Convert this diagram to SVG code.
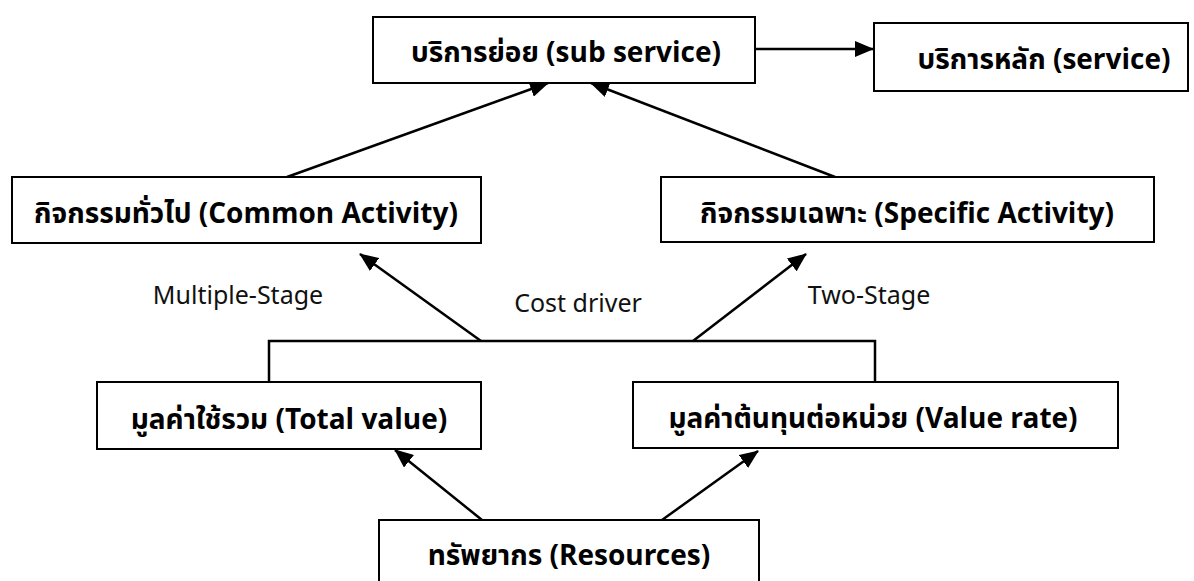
<svg xmlns="http://www.w3.org/2000/svg" width="1194" height="581" viewBox="0 0 1194 581">
<defs>
<marker id="ah" markerUnits="userSpaceOnUse" markerWidth="20" markerHeight="16" refX="18" refY="8" orient="auto">
<path d="M0,0 L19,8 L0,16 z" fill="#000"/>
</marker>
<style>
.box{fill:#fff;stroke:#000;stroke-width:2}
.lbl{font-family:"Noto Sans Thai","Noto Sans","DejaVu Sans",sans-serif;font-weight:bold;font-size:28px;fill:#000;text-anchor:middle}
.note{font-family:"Noto Sans Thai","Noto Sans","DejaVu Sans",sans-serif;font-size:25px;fill:#111;text-anchor:middle}
.con{fill:none;stroke:#000;stroke-width:2.5}
.arr{fill:none;stroke:#000;stroke-width:2.5;marker-end:url(#ah)}
</style>
</defs>
<rect width="1194" height="581" fill="#fff"/>
<g id="connectors">
<line class="arr" x1="755" y1="49" x2="873" y2="49"/>
<line class="arr" x1="287" y1="177" x2="548" y2="83"/>
<line class="arr" x1="835" y1="177" x2="591" y2="83"/>
<line class="arr" x1="481" y1="341" x2="360" y2="254"/>
<line class="arr" x1="693" y1="341" x2="806" y2="254"/>
<polyline class="con" points="269,382 269,341 875,341 875,382"/>
<line class="arr" x1="482" y1="520" x2="395" y2="450"/>
<line class="arr" x1="662" y1="520" x2="758" y2="451"/>
</g>
<g id="sub-service">
<rect class="box" x="373" y="17" width="382" height="66"/>
<text class="lbl" x="566" y="62">บริการย่อย (sub service)</text>
</g>
<g id="service">
<rect class="box" x="874" y="23" width="314" height="68"/>
<text class="lbl" x="1044" y="69">บริการหลัก (service)</text>
</g>
<g id="common-activity">
<rect class="box" x="12" y="177" width="469" height="66"/>
<text class="lbl" x="246" y="223">กิจกรรมทั่วไป (Common Activity)</text>
</g>
<g id="specific-activity">
<rect class="box" x="661" y="177" width="493" height="65"/>
<text class="lbl" x="907" y="223">กิจกรรมเฉพาะ (Specific Activity)</text>
</g>
<g id="labels">
<text class="note" x="238" y="304">Multiple-Stage</text>
<text class="note" x="578" y="312">Cost driver</text>
<text class="note" x="869" y="304">Two-Stage</text>
</g>
<g id="total-value">
<rect class="box" x="97" y="382" width="384" height="67"/>
<text class="lbl" x="289" y="429">มูลค่าใช้รวม (Total value)</text>
</g>
<g id="value-rate">
<rect class="box" x="633" y="382" width="485" height="66"/>
<text class="lbl" x="873" y="428">มูลค่าต้นทุนต่อหน่วย (Value rate)</text>
</g>
<g id="resources">
<rect class="box" x="379" y="520" width="380" height="70"/>
<text class="lbl" x="569" y="565">ทรัพยากร (Resources)</text>
</g>
</svg>
